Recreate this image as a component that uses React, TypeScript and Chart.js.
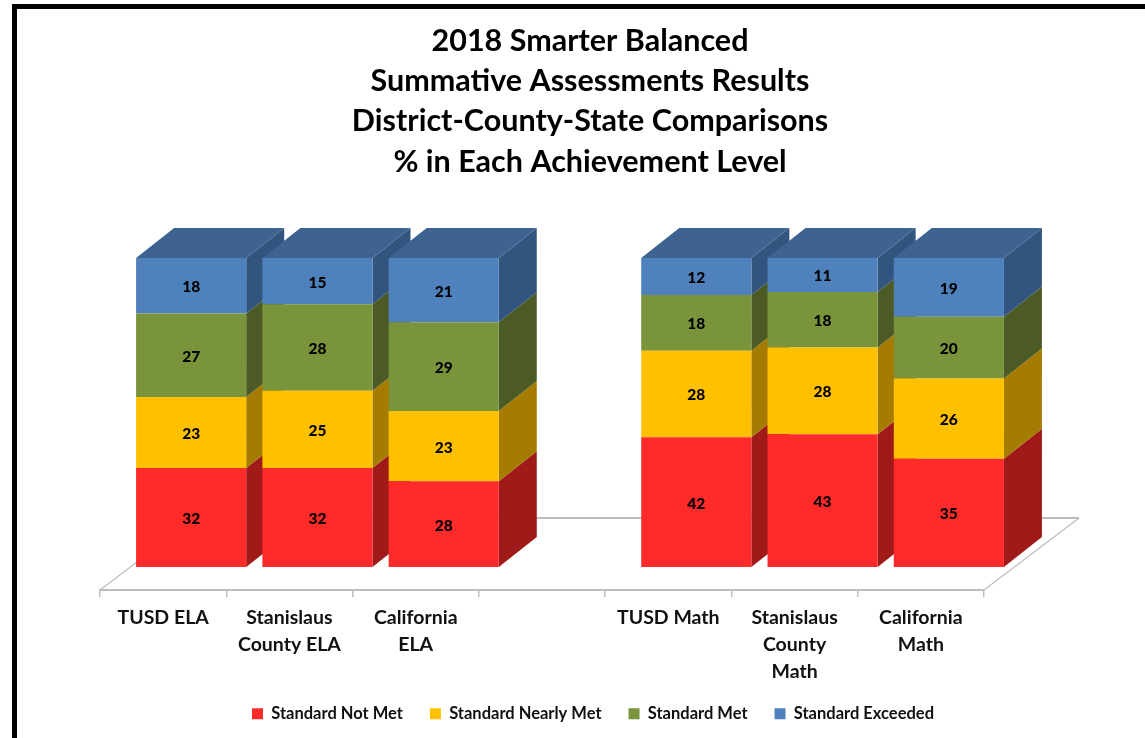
import { useEffect, useRef } from "react";
import { Chart, registerables } from "chart.js";

Chart.register(...registerables);

const titleLines = [
  "2018 Smarter Balanced",
  "Summative Assessments Results",
  "District-County-State Comparisons",
  "% in Each Achievement Level",
];
const categories: (string | string[])[] = [
  "TUSD ELA",
  ["Stanislaus", "County ELA"],
  ["California", "ELA"],
  "",
  "TUSD Math",
  ["Stanislaus", "County", "Math"],
  ["California", "Math"],
];
const notMet = [32, 32, 28, null, 42, 43, 35];
const nearlyMet = [23, 25, 23, null, 28, 28, 26];
const met = [27, 28, 29, null, 18, 18, 20];
const exceeded = [18, 15, 21, null, 12, 11, 19];
const seriesNames = ["Standard Not Met", "Standard Nearly Met", "Standard Met", "Standard Exceeded"];
const seriesValues = [notMet, nearlyMet, met, exceeded];
const frontColors = ["#FF2A2A", "#FFC000", "#7A943B", "#4F81BD"];
const sideColors = ["#A01A1A", "#A67C00", "#4C5B26", "#32557F"];
const topColor = "#3E6390";

const FONT = "Lato, Carlito, 'Open Sans', sans-serif";
const barShiftX = 28;
const barShiftY = 23;
const depthX = 38;
const depthY = 30;
const floorX = 95;
const floorY = 72;
const axisColor = "#bdbdbd";

// Every column is drawn as a 100% stack, as in the source chart.
const share = (values: (number | null)[]) =>
  values.map((v, i) => {
    if (v === null) return null;
    const total = seriesValues.reduce((sum, s) => sum + (s[i] ?? 0), 0);
    return (v / total) * 100;
  });

const poly = (ctx: CanvasRenderingContext2D, color: string, pts: number[][]) => {
  ctx.fillStyle = color;
  ctx.beginPath();
  pts.forEach(([x, y], i) => (i ? ctx.lineTo(x, y) : ctx.moveTo(x, y)));
  ctx.closePath();
  ctx.fill();
};

const threeD = {
  id: "threeD",
  afterLayout(chart: any) {
    if (chart.titleBlock) {
      chart.titleBlock.left = 0;
      chart.titleBlock.right = 1180;
    }
    if (chart.legend) {
      chart.legend.left = 0;
      chart.legend.right = 1186;
      chart.legend.top = 738 - chart.legend.height - 6;
      chart.legend.bottom = chart.legend.top + chart.legend.height;
    }
  },
  beforeDatasetsDraw(chart: any) {
    const { ctx, chartArea: a } = chart;
    ctx.save();
    ctx.strokeStyle = axisColor;
    ctx.lineWidth = 1.2;
    ctx.beginPath();
    ctx.moveTo(a.left, a.bottom);
    ctx.lineTo(a.left + floorX, a.bottom - floorY);
    ctx.moveTo(a.right + floorX, a.bottom - floorY);
    ctx.lineTo(a.right, a.bottom);
    ctx.stroke();
    ctx.lineWidth = 2;
    ctx.beginPath();
    ctx.moveTo(a.left + floorX, a.bottom - floorY);
    ctx.lineTo(a.right + floorX, a.bottom - floorY);
    ctx.stroke();
    ctx.restore();

    ctx.save();
    ctx.translate(barShiftX, -barShiftY);
    categories.forEach((_, col) => {
      seriesValues.forEach((values, s) => {
        if (values[col] === null) return;
        const el = chart.getDatasetMeta(s).data[col];
        const l = el.x - el.width / 2;
        const r = el.x + el.width / 2;
        poly(ctx, sideColors[s], [
          [r, el.y],
          [r + depthX, el.y - depthY],
          [r + depthX, el.base - depthY],
          [r, el.base],
        ]);
        if (s === seriesValues.length - 1) {
          poly(ctx, topColor, [
            [l, el.y],
            [l + depthX, el.y - depthY],
            [r + depthX, el.y - depthY],
            [r, el.y],
          ]);
        }
      });
    });
  },
  afterDatasetsDraw(chart: any) {
    const { ctx } = chart;
    ctx.fillStyle = "#000";
    ctx.font = `900 15.5px ${FONT}`;
    ctx.textAlign = "center";
    ctx.textBaseline = "middle";
    seriesValues.forEach((values, s) => {
      values.forEach((v, col) => {
        if (v === null) return;
        const el = chart.getDatasetMeta(s).data[col];
        ctx.fillText(String(v), el.x, (el.y + el.base) / 2 + 1.5);
      });
    });
    ctx.restore();
  },
};

export default function App() {
  const ref = useRef<HTMLCanvasElement>(null);
  useEffect(() => {
    document.body.style.margin = "0";
    const chart = new Chart(ref.current!, {
      type: "bar",
      data: {
        labels: categories as any,
        datasets: seriesNames.map((name, s) => ({
          label: name,
          data: share(seriesValues[s]),
          backgroundColor: frontColors[s],
          borderWidth: 0,
          barPercentage: 0.872,
          categoryPercentage: 1,
          clip: false as any,
        })),
      },
      options: {
        animation: false,
        responsive: false,
        layout: { padding: { left: 100, right: 161, top: 0, bottom: 0 } },
        plugins: {
          tooltip: { enabled: false },
          title: {
            display: true,
            text: titleLines,
            color: "#000",
            font: { family: FONT, size: 30.5, weight: "bold", lineHeight: 40.2 / 30.5 },
            padding: { top: 21, bottom: 99.2 },
          },
          legend: {
            position: "bottom",
            labels: {
              color: "#111",
              boxWidth: 11,
              boxHeight: 11,
              padding: 27,
              font: { family: FONT, size: 16.5, weight: "bold" },
            },
          },
        },
        scales: {
          x: {
            stacked: true,
            afterFit(scale: any) {
              scale.height = 738 - 590 - (scale.chart.legend?.height || 0);
            },
            grid: {
              offset: true,
              drawOnChartArea: false,
              color: axisColor,
              lineWidth: 1.5,
              tickLength: 7,
            },
            border: { color: axisColor, width: 2 },
            ticks: {
              color: "#111",
              autoSkip: false,
              maxRotation: 0,
              padding: 7,
              font: { family: FONT, size: 19.5, weight: "bold", lineHeight: 27 / 19.5 },
            },
          },
          y: { stacked: true, display: false, min: 0, max: 100 },
        },
      },
      plugins: [threeD],
    } as any);
    return () => chart.destroy();
  }, []);
  return (
    <div style={{ position: "absolute", left: 0, top: 0, width: 1145, height: 738, overflow: "hidden", background: "#fff" }}>
      <div
        style={{
          position: "absolute",
          left: 11.5,
          top: 4,
          width: 1200,
          height: 800,
          borderLeft: "5px solid #000",
          borderTop: "5px solid #000",
        }}
      />
      <canvas ref={ref} width={1145} height={738} style={{ position: "absolute", left: 0, top: 0 }} />
    </div>
  );
}
